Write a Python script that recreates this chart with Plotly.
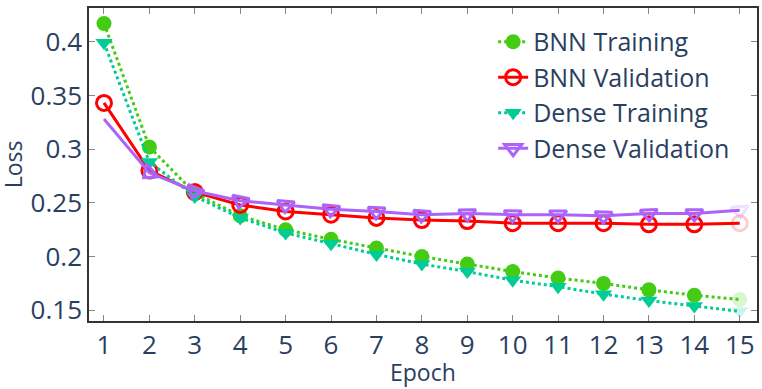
import plotly.graph_objects as go

epochs = list(range(1, 16))

bnn_train = [0.417, 0.302, 0.259, 0.238, 0.225, 0.216, 0.208, 0.200, 0.193,
             0.186, 0.180, 0.175, 0.169, 0.164, 0.160]
bnn_val = [0.343, 0.280, 0.260, 0.248, 0.242, 0.239, 0.236, 0.234, 0.233,
           0.231, 0.231, 0.231, 0.230, 0.230, 0.231]
dense_train = [0.399, 0.288, 0.256, 0.236, 0.222, 0.212, 0.202, 0.193, 0.186,
               0.178, 0.172, 0.165, 0.159, 0.154, 0.149]
dense_val = [0.328, 0.278, 0.261, 0.252, 0.248, 0.244, 0.242, 0.239, 0.240,
             0.239, 0.239, 0.238, 0.240, 0.240, 0.243]

FONT = 'Open Sans'
TEXT = '#2a3f5f'
# all but the last epoch are "selected", the last marker is faded
sel = list(range(len(epochs) - 1))

fig = go.Figure()
fig.add_trace(go.Scatter(
    x=epochs, y=bnn_train, name='BNN Training', mode='lines+markers',
    line=dict(color='#44cc14', width=3, dash='dot'),
    marker=dict(symbol='circle', size=15, color='#44cc14'),
    selectedpoints=sel,
))
fig.add_trace(go.Scatter(
    x=epochs, y=bnn_val, name='BNN Validation', mode='lines+markers',
    line=dict(color='red', width=3),
    marker=dict(symbol='circle-open', size=15, color='red', line=dict(width=3)),
    selectedpoints=sel,
))
fig.add_trace(go.Scatter(
    x=epochs, y=dense_train, name='Dense Training', mode='lines+markers',
    line=dict(color='#00cc96', width=3, dash='dot'),
    marker=dict(symbol='triangle-down', size=15, color='#00cc96'),
    selectedpoints=sel,
))
fig.add_trace(go.Scatter(
    x=epochs, y=dense_val, name='Dense Validation', mode='lines+markers',
    line=dict(color='#ab63fa', width=3),
    marker=dict(symbol='triangle-right-open', size=15, color='#ab63fa',
                angleref='previous', line=dict(width=3)),
    selectedpoints=sel,
))

axis_style = dict(
    showline=True, linecolor='#333', linewidth=1.5, mirror='ticks',
    ticks='inside', tickcolor='#888', ticklen=6, showgrid=False, zeroline=False,
    automargin=False, tickfont=dict(family=FONT, size=26, color=TEXT),
)
fig.update_xaxes(range=[0.67, 15.38], tickmode='linear', dtick=1, **axis_style)
fig.update_yaxes(
    range=[0.140, 0.4314], tickvals=[0.15, 0.2, 0.25, 0.3, 0.35, 0.4],
    ticktext=['0.15', '0.2', '0.25', '0.3', '0.35', '0.4'],
    **axis_style,
)
# axis titles as annotations so they sit where the reference has them
title_font = dict(family=FONT, size=23, color=TEXT)
fig.add_annotation(
    text='Epoch', xref='paper', yref='paper', x=0.5, y=-0.163,
    xanchor='center', yanchor='middle', showarrow=False, font=title_font,
)
fig.add_annotation(
    text='Loss', xref='paper', yref='paper', x=-0.114, y=0.5, textangle=-90,
    xanchor='center', yanchor='middle', showarrow=False, font=title_font,
)
fig.update_layout(
    width=762, height=389,
    plot_bgcolor='white', paper_bgcolor='white',
    margin=dict(l=89, r=5, t=8, b=68),
    font=dict(family=FONT, color=TEXT),
    legend=dict(x=0.605, y=0.965, xanchor='left', yanchor='top',
                bgcolor='rgba(0,0,0,0)', font=dict(family=FONT, size=25, color=TEXT)),
)
# drop the default body margin so the figure fills the window
fig.write_html('out.html', config={'displayModeBar': False},
               post_script="document.body.style.margin='0';")
